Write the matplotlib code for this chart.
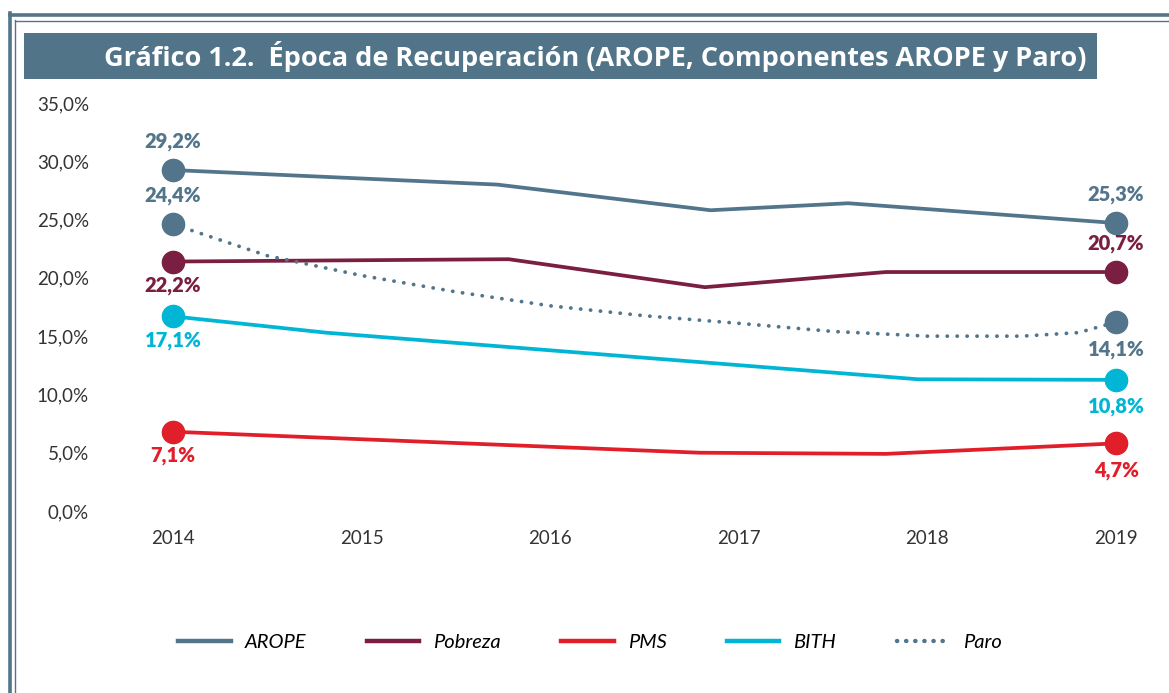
import matplotlib.pyplot as plt
from matplotlib.lines import Line2D
from matplotlib.patches import Rectangle

years = [2014, 2015, 2016, 2017, 2018, 2019]
y_ticks = [0, 5, 10, 15, 20, 25, 30, 35]

# series (x in fractional years, y in %)
arope_x = [2014, 2015.72, 2016.85, 2017.58, 2019]
arope_y = [29.25, 28.0, 25.8, 26.4, 24.7]
pobreza_x = [2014, 2015.78, 2016.82, 2017.78, 2019]
pobreza_y = [21.4, 21.6, 19.2, 20.5, 20.5]
pms_x = [2014, 2016.79, 2017.78, 2019]
pms_y = [6.8, 5.0, 4.9, 5.8]
bith_x = [2014, 2014.81, 2017.95, 2019]
bith_y = [16.7, 15.3, 11.3, 11.25]
paro_x = [2014, 2014.5, 2015, 2015.5, 2016, 2016.5, 2017, 2017.5, 2018, 2018.5, 2018.8, 2019]
paro_y = [24.6, 21.9, 20.2, 18.8, 17.6, 16.75, 16.1, 15.4, 15.0, 15.0, 15.3, 16.2]

# end labels as printed on the chart
start_labels = {'AROPE': '29,2%', 'Paro': '24,4%', 'Pobreza': '22,2%', 'BITH': '17,1%', 'PMS': '7,1%'}
end_labels = {'AROPE': '25,3%', 'Pobreza': '20,7%', 'Paro': '14,1%', 'BITH': '10,8%', 'PMS': '4,7%'}

C_AROPE = '#52758b'
C_POB = '#7b1f42'
C_PMS = '#e01f2a'
C_BITH = '#00b6d4'

plt.rcParams['font.family'] = ['Lato', 'DejaVu Sans']

fig = plt.figure(figsize=(11.69, 6.93), dpi=100)
W, H = 1169, 693

# frame lines (double border on top and left)
fig.add_artist(Line2D([10 / W, 10 / W], [0, 1 - 13 / H], color=C_AROPE, lw=2.6, transform=fig.transFigure))
fig.add_artist(Line2D([15 / W, 15 / W], [0, 1 - 20 / H], color=C_AROPE, lw=1.0, transform=fig.transFigure))
fig.add_artist(Line2D([10 / W, 1], [1 - 15 / H, 1 - 15 / H], color=C_AROPE, lw=2.6, transform=fig.transFigure))
fig.add_artist(Line2D([15 / W, 1], [1 - 21 / H, 1 - 21 / H], color=C_AROPE, lw=1.0, transform=fig.transFigure))

# title bar
fig.add_artist(Rectangle((24 / W, 1 - 79 / H), (1097 - 24) / W, 46 / H,
                         facecolor='#517489', edgecolor='none', transform=fig.transFigure))
fig.text(595 / W, 1 - 57 / H, 'Gráfico 1.2.  Época de Recuperación (AROPE, Componentes AROPE y Paro)',
         color='white', fontsize=19.5, fontweight='bold', ha='center', va='center',
         family=['Open Sans', 'DejaVu Sans'])

ax = fig.add_axes([150 / W, 1 - 511 / H, 990 / W, 408 / H])
ax.set_xlim(2014 - 23 / 188.6, 2019 + 24 / 188.6)
ax.set_ylim(0, 35)

series = [
    ('AROPE', arope_x, arope_y, C_AROPE, '-'),
    ('Pobreza', pobreza_x, pobreza_y, C_POB, '-'),
    ('PMS', pms_x, pms_y, C_PMS, '-'),
    ('BITH', bith_x, bith_y, C_BITH, '-'),
    ('Paro', paro_x, paro_y, C_AROPE, (0, (0.05, 2.6))),
]

handles = []
for name, xs, ys, col, ls in series:
    ax.plot(xs, ys, color=col, lw=2.7, ls=ls, dash_capstyle='round', solid_capstyle='butt',
            clip_on=False, zorder=2)
    ax.plot([xs[0], xs[-1]], [ys[0], ys[-1]], 'o', color=col, ms=16, clip_on=False, zorder=3)
    handles.append(Line2D([], [], color=col, lw=3.2, ls=ls if ls == '-' else (0, (0.05, 2.0)),
                          dash_capstyle='round', label=name))

above_start = {'AROPE', 'Paro'}
above_end = {'AROPE', 'Pobreza'}
for name, xs, ys, col, ls in series:
    dy = 29 if name in above_start else -24
    ax.annotate(start_labels[name], (xs[0], ys[0]), xytext=(0, dy), textcoords='offset pixels',
                ha='center', va='center', color=col, fontsize=14.5, fontweight='heavy',
                annotation_clip=False)
    dy = 29 if name in above_end else -27
    ax.annotate(end_labels[name], (xs[-1], ys[-1]), xytext=(0, dy), textcoords='offset pixels',
                ha='center', va='center', color=col, fontsize=14.5, fontweight='heavy',
                annotation_clip=False)

ax.set_xticks(years)
ax.set_xticklabels([str(y) for y in years], fontsize=13.5, color='#333333')
ax.set_yticks(y_ticks)
ax.set_yticklabels([f'{v:.1f}%'.replace('.', ',') for v in y_ticks], fontsize=13.5, color='#333333')
ax.tick_params(axis='both', length=0)
ax.tick_params(axis='y', pad=44)
ax.tick_params(axis='x', pad=14)
for s in ax.spines.values():
    s.set_visible(False)

fig.legend(handles=handles, loc='center', bbox_to_anchor=(590 / W, 1 - 642 / H), ncol=5,
           frameon=False, handlelength=2.6, columnspacing=3.0, handletextpad=0.7,
           prop={'size': 14.5, 'style': 'italic'})

fig.savefig('out.png', dpi=100)
